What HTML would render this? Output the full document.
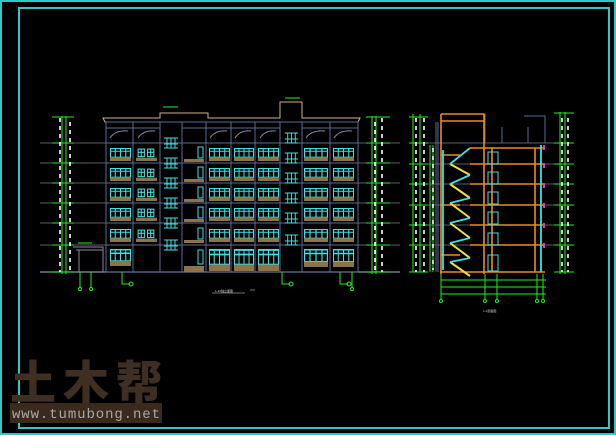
<!DOCTYPE html>
<html><head><meta charset="utf-8"><style>
html,body{margin:0;padding:0;background:#000;width:616px;height:435px;overflow:hidden}
svg{display:block}
</style></head><body>
<svg width="616" height="435" viewBox="0 0 616 435" xmlns="http://www.w3.org/2000/svg">
<defs>
<symbol id="w" viewBox="0 0 20 12" preserveAspectRatio="none">
<rect x="0.5" y="0.5" width="19" height="8" fill="none" stroke="#3ee0e0" stroke-width="1"/>
<path d="M5 0.5V8.5M10 0.5V8.5M15 0.5V8.5M0.5 3H19.5" stroke="#3ee0e0" stroke-width="1"/>
<rect x="0" y="8.5" width="20" height="3.5" fill="#8c7447"/>
</symbol>
<symbol id="w2" viewBox="0 0 20 12" preserveAspectRatio="none">
<rect x="2" y="1" width="6" height="7" fill="none" stroke="#3ee0e0"/>
<rect x="11" y="1" width="6" height="7" fill="none" stroke="#3ee0e0"/>
<path d="M5 1V8M14 1V8M2 4H8M11 4H17" stroke="#3ee0e0"/>
<rect x="0" y="9" width="20" height="3" fill="#8c7447"/>
</symbol>
<symbol id="st" viewBox="0 0 18 20" preserveAspectRatio="none">
<path d="M2 3H16M2 9H16M5 3V13M9 3V13M13 3V13M2 13H16" stroke="#3ee0e0" fill="none"/>
</symbol>
</defs>
<rect x="1" y="1" width="614" height="433" fill="none" stroke="#2fc8c8" stroke-width="2"/>
<rect x="19" y="8" width="590" height="420" fill="none" stroke="#2fc8c8" stroke-width="2"/>

<g stroke="#7a7a8a" stroke-width="0.8">
<path d="M40 143H400M40 163H400M40 183H400M40 203H400M40 223H400M40 245H400"/>
<path d="M40 272H400" stroke="#8890a8" stroke-width="1.2"/>
<path d="M410 143H565M410 164H565M410 184H565M410 205H565M410 225H565M410 245H565"/>
</g>

<g fill="none" stroke="#5a6a9a" stroke-width="1">
<path d="M103 118H160V113H208V118H280V102H302V118H360L358 122H105Z" stroke="#d0b090"/>
<rect x="106" y="122" width="252" height="150"/>
<path d="M160 122V272M182 122V272M280 122V272M302 122V272"/>
<path d="M106 128H160M182 128H280M302 128H358"/>
<path d="M106 143H358M106 163H358M106 183H358M106 203H358M106 223H358M106 245H358"/>
<path d="M133 122V272M206 122V272M231 122V272M255 122V272M330 122V272"/>
<path d="M110 138Q115 130 128 131M138 138Q143 130 155 131M210 138Q215 130 227 131M235 138Q240 130 251 131M260 138Q265 130 276 131M306 138Q311 130 325 131M334 138Q339 130 352 131" stroke="#8888aa"/>
<path d="M73 247H103V272M76 250H103M79 250V272" stroke="#8888aa"/>
</g>
<g>
<use href="#w" x="110" y="148" width="21" height="13"/><use href="#w2" x="136" y="148" width="21" height="13"/>
<use href="#w" x="110" y="168" width="21" height="13"/><use href="#w2" x="136" y="168" width="21" height="13"/>
<use href="#w" x="110" y="188" width="21" height="13"/><use href="#w2" x="136" y="188" width="21" height="13"/>
<use href="#w" x="110" y="208" width="21" height="13"/><use href="#w2" x="136" y="208" width="21" height="13"/>
<use href="#w" x="110" y="229" width="21" height="13"/><use href="#w2" x="136" y="229" width="21" height="13"/>
<use href="#w" x="110" y="249" width="21" height="17"/>
</g>
<g id="cols">
<use href="#w" x="209" y="148" width="21" height="13"/><use href="#w" x="234" y="148" width="20" height="13"/><use href="#w" x="258" y="148" width="21" height="13"/><use href="#w" x="304" y="148" width="24" height="13"/><use href="#w" x="333" y="148" width="21" height="13"/>
</g>
<use href="#cols" y="20"/><use href="#cols" y="40"/><use href="#cols" y="60"/><use href="#cols" y="81"/>
<g>
<use href="#w" x="209" y="249" width="21" height="22"/><use href="#w" x="234" y="249" width="20" height="22"/><use href="#w" x="258" y="249" width="21" height="22"/><use href="#w" x="304" y="249" width="24" height="18"/><use href="#w" x="333" y="249" width="21" height="18"/>
</g>
<g fill="#8c7447">
<rect x="184" y="159" width="20" height="3"/><rect x="184" y="179" width="20" height="3"/><rect x="184" y="199" width="20" height="3"/><rect x="184" y="219" width="20" height="3"/><rect x="184" y="240" width="20" height="3"/><rect x="184" y="266" width="20" height="6"/>
</g>
<g fill="none" stroke="#3ee0e0">
<rect x="198" y="147" width="5" height="11"/><rect x="198" y="167" width="5" height="11"/><rect x="198" y="187" width="5" height="11"/><rect x="198" y="207" width="5" height="11"/><rect x="198" y="228" width="5" height="11"/><rect x="198" y="250" width="5" height="14"/>
</g>
<use href="#st" x="162" y="135" width="18" height="20"/><use href="#st" x="162" y="155" width="18" height="20"/><use href="#st" x="162" y="175" width="18" height="20"/><use href="#st" x="162" y="195" width="18" height="20"/><use href="#st" x="162" y="215" width="18" height="20"/><use href="#st" x="162" y="237" width="18" height="20"/>
<use href="#st" x="283" y="130" width="17" height="20"/><use href="#st" x="283" y="150" width="17" height="20"/><use href="#st" x="283" y="170" width="17" height="20"/><use href="#st" x="283" y="190" width="17" height="20"/><use href="#st" x="283" y="210" width="17" height="20"/><use href="#st" x="283" y="232" width="17" height="20"/>

<g stroke="#22ee22" fill="none" stroke-width="1">
<path d="M62 116V274M66 116V274M52 117H74M52 143H74M52 163H74M52 183H74M52 203H74M52 223H74M52 245H74M52 272H74"/>
<path d="M372 116V274M376 116V274M366 117H390M366 143H390M366 163H390M366 183H390M366 203H390M366 223H390M366 245H390M366 272H390"/>
<path d="M80 272V288M91 272V288M122 272V284H130M282 272V284H290M340 272V284H348M352 272V288"/>
<circle cx="80" cy="289" r="1.5"/><circle cx="91" cy="289" r="1.5"/><circle cx="352" cy="289" r="1.5"/>
<circle cx="131" cy="284" r="2"/><circle cx="291" cy="284" r="2"/><circle cx="349" cy="284" r="2"/>
<path d="M163 107H178M285 98H300M78 243H92"/>
</g>
<g stroke="#fff" stroke-width="1.6" stroke-dasharray="4 4">
<path d="M60 118V272M70 122V272M375 122V272M382 118V272"/>
</g>
<g stroke="#ddd" stroke-width="0.6"><path d="M212 293H245M250 290H255"/></g>
<text x="215" y="292" font-family="Liberation Sans,'Noto Sans CJK SC',sans-serif" font-size="3" fill="#ccc">1-10轴立面图</text>

<g stroke="#22ee22" fill="none">
<path d="M413 114V272M420 114V272M409 117H428M409 143H428M409 164H428M409 184H428M409 205H428M409 225H428M409 245H428M409 272H428"/>
<path d="M430 145V272M433 145V272"/>
<path d="M560 112V274M565 112V274M554 113H574M554 143H574M554 164H574M554 184H574M554 205H574M554 225H574M554 245H574M554 272H574"/>
<path d="M441 280H546M441 287H546M441 294H546M441 274V300M485 274V300M497 274V300M537 274V300M543 274V300"/>
<circle cx="441" cy="301" r="1.5"/><circle cx="485" cy="301" r="1.5"/><circle cx="497" cy="301" r="1.5"/><circle cx="537" cy="301" r="1.5"/><circle cx="543" cy="301" r="1.5"/>
</g>
<g stroke="#fff" stroke-width="1.6" stroke-dasharray="4 4"><path d="M416 118V272M424 118V272M562 118V272M568 118V272M433 148V270"/></g>
<g fill="none" stroke="#5a6a9a"><path d="M436 122V272M438 122V272M485 113V143M524 116H545V143M502 127V143M528 127V143"/></g>
<g fill="none" stroke="#ee8a22" stroke-width="1.6">
<path d="M441 114V274M484 114V274M441 114H484M441 121H484"/>
<path d="M470 148H545M470 164H545M470 184H545M470 205H545M470 225H545M470 245H545M440 272H545"/>
<path d="M492 148V272M535 148V272M441 155H460M441 205H460M441 255H460"/>
</g>
<g stroke="#f0e040" stroke-width="2"><path d="M450 164L470 175M450 184L470 198M450 203L470 218M450 223L470 238M450 243L470 258M450 262L470 276"/></g>
<g stroke="#3ee0e0" stroke-width="1.8"><path d="M470 148L450 164M470 175L450 184M470 198L450 203M470 218L450 223M470 238L450 243M470 258L450 262"/>
<path d="M443 150V270M541 145V272"/></g>
<g fill="none" stroke="#3ee0e0"><rect x="488" y="152" width="10" height="12"/><rect x="488" y="172" width="10" height="12"/><rect x="488" y="192" width="10" height="12"/><rect x="488" y="212" width="10" height="12"/><rect x="488" y="233" width="10" height="12"/><rect x="488" y="255" width="10" height="16"/></g>
<g fill="#d040d0"><rect x="543" y="145" width="2" height="5"/><rect x="543" y="163" width="2" height="5"/><rect x="543" y="183" width="2" height="5"/><rect x="543" y="203" width="2" height="5"/><rect x="543" y="223" width="2" height="5"/><rect x="543" y="243" width="2" height="5"/></g>
<text x="483" y="312" font-family="Liberation Sans,'Noto Sans CJK SC',sans-serif" font-size="3" fill="#ccc">1-1剖面图</text>

<text x="10" y="399" font-family="'Noto Sans CJK SC',sans-serif" font-size="46" font-weight="900" fill="#3f2f22" letter-spacing="7">土木帮</text>
<rect x="10" y="403" width="152" height="20" fill="#3a2a1e"/>
<text x="12" y="418" font-family="Liberation Mono,monospace" font-size="14" fill="#a8a8a8" textLength="148">www.tumubong.net</text>
</svg>
</body></html>
